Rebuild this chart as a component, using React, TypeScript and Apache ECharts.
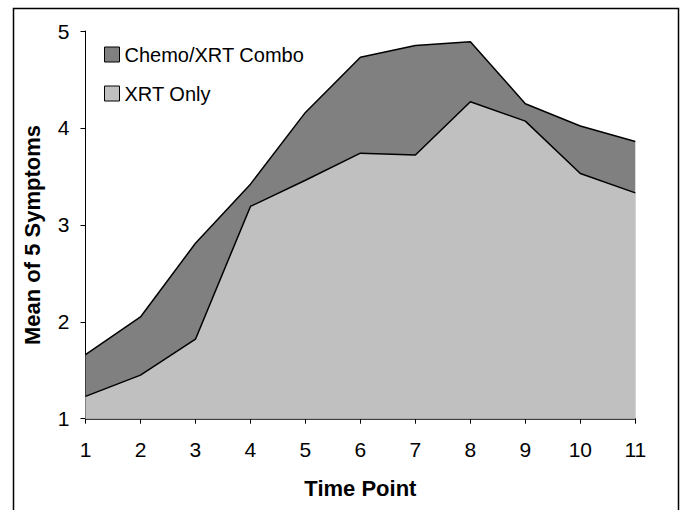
import React, { useEffect, useRef } from "react";
import * as echarts from "echarts";

const timePoints = ["1", "2", "3", "4", "5", "6", "7", "8", "9", "10", "11"];
const chemoXrtCombo = [1.66, 2.05, 2.81, 3.42, 4.16, 4.73, 4.85, 4.89, 4.25, 4.02, 3.86];
const xrtOnly = [1.23, 1.45, 1.82, 3.19, 3.46, 3.74, 3.72, 4.27, 4.07, 3.53, 3.33];
const seriesNames = ["Chemo/XRT Combo", "XRT Only"];
const yTitle = "Mean of 5 Symptoms";
const xTitle = "Time Point";
const FONT = "Liberation Sans, Arial, sans-serif";

export default function App() {
  const ref = useRef<HTMLDivElement>(null);
  useEffect(() => {
    if (!ref.current) return;
    const chart = echarts.init(ref.current, undefined, { renderer: "svg" });
    chart.setOption({
      animation: false,
      backgroundColor: "#ffffff",
      textStyle: { fontFamily: FONT },
      grid: { left: 85.5, right: 50.7, top: 31, bottom: 91.3 },
      legend: {
        orient: "vertical",
        left: 104,
        top: 44,
        padding: 0,
        itemWidth: 15,
        itemHeight: 15,
        itemGap: 18,
        textStyle: { fontSize: 20, color: "#000", fontFamily: FONT, lineHeight: 21 },
        data: [
          { name: seriesNames[0], icon: "rect", itemStyle: { color: "#808080", borderColor: "#000", borderWidth: 1 } },
          { name: seriesNames[1], icon: "rect", itemStyle: { color: "#c0c0c0", borderColor: "#000", borderWidth: 1 } },
        ],
      },
      xAxis: {
        type: "category",
        data: timePoints,
        boundaryGap: false,
        name: xTitle,
        nameLocation: "middle",
        nameGap: 59,
        nameTextStyle: { fontSize: 22, fontWeight: "bold", color: "#000", fontFamily: FONT },
        axisLine: { lineStyle: { color: "#000", width: 1.5 } },
        axisTick: { show: true, alignWithLabel: true, length: 5, lineStyle: { color: "#000" } },
        axisLabel: { fontSize: 21, color: "#000", margin: 20, fontFamily: FONT },
        splitLine: { show: false },
      },
      yAxis: {
        type: "value",
        min: 1,
        max: 5,
        interval: 1,
        axisLine: { show: true, lineStyle: { color: "#000", width: 1 } },
        axisTick: { show: true, length: 5, lineStyle: { color: "#000" } },
        axisLabel: { fontSize: 21, color: "#000", margin: 16, fontFamily: FONT },
        splitLine: { show: false },
      },
      series: [
        {
          name: seriesNames[0],
          type: "line",
          data: chemoXrtCombo,
          showSymbol: false,
          symbol: "none",
          lineStyle: { color: "#000", width: 1.5 },
          itemStyle: { color: "#808080" },
          areaStyle: { color: "#808080", opacity: 1, origin: "start" },
        },
        {
          name: seriesNames[1],
          type: "line",
          data: xrtOnly,
          showSymbol: false,
          symbol: "none",
          lineStyle: { color: "#000", width: 1.5 },
          itemStyle: { color: "#c0c0c0" },
          areaStyle: { color: "#c0c0c0", opacity: 1, origin: "start" },
        },
      ],
      graphic: [
        {
          type: "rect",
          shape: { x: 13.5, y: 8.5, width: 665, height: 530 },
          style: { fill: "none", stroke: "#000", lineWidth: 1.5 },
          silent: true,
        },
        {
          type: "text",
          x: 32,
          y: 235,
          rotation: Math.PI / 2,
          style: {
            text: yTitle,
            fontSize: 22,
            fontWeight: "bold",
            fontFamily: FONT,
            fill: "#000",
            textAlign: "center",
            textVerticalAlign: "middle",
          },
          silent: true,
        },
      ],
    });
    return () => chart.dispose();
  }, []);
  return (
    <div
      ref={ref}
      style={{ position: "fixed", left: 0, top: 0, width: 686, height: 510 }}
    />
  );
}
